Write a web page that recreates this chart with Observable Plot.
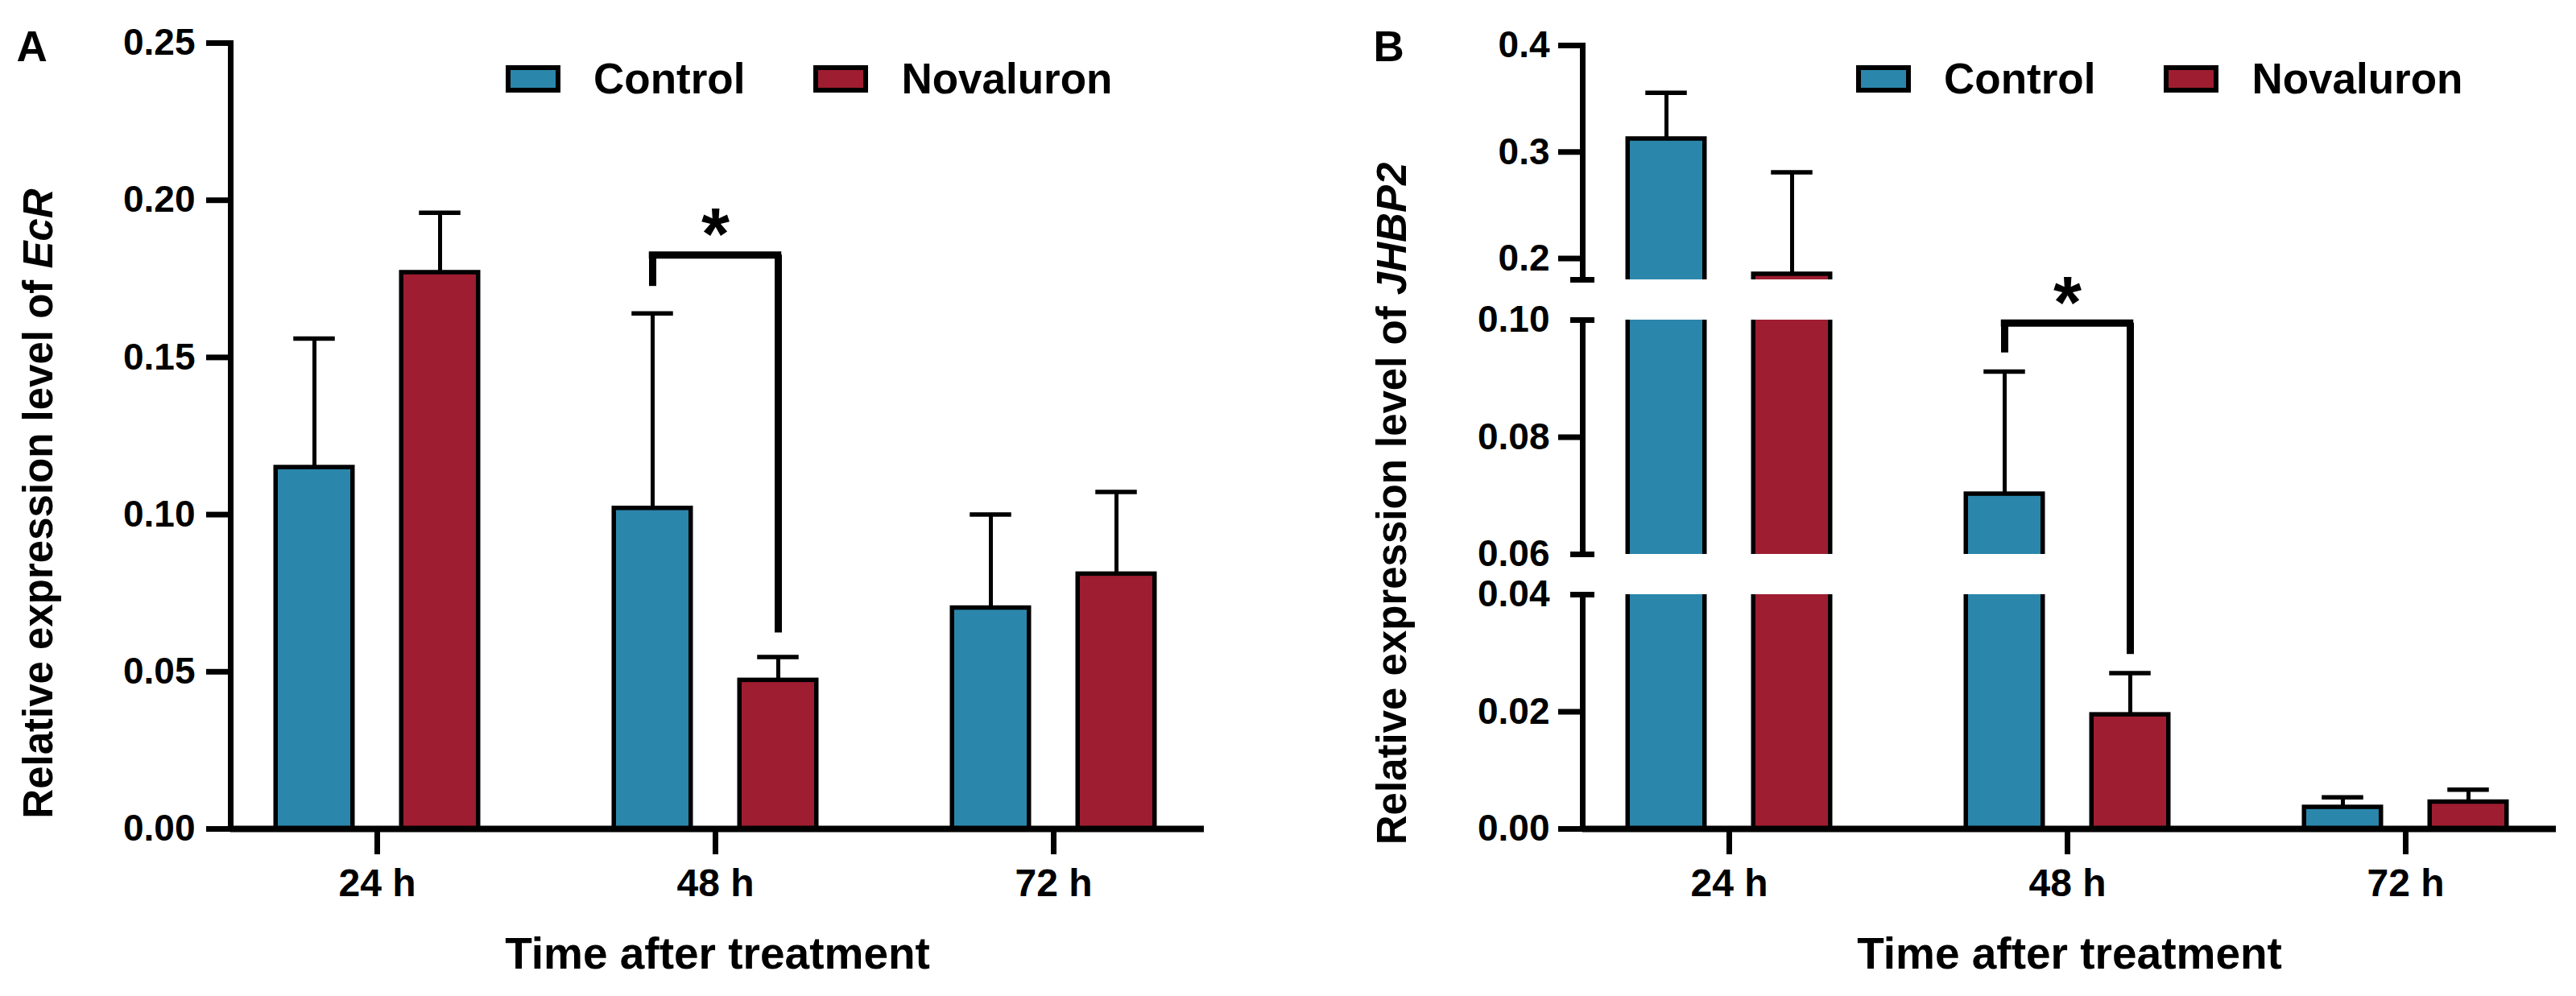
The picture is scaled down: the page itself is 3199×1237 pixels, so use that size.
<!DOCTYPE html>
<html>
<head>
<meta charset="utf-8">
<script src="https://cdn.jsdelivr.net/npm/d3@7"></script>
<script src="https://cdn.jsdelivr.net/npm/@observablehq/plot@0.6"></script>
<style>
  html, body { margin: 0; padding: 0; background: #fff; }
  #row { display: flex; width: 3199px; height: 1237px; }
  .panel { position: relative; height: 1237px; }
  .panel svg { display: block; }
  .panel .legend { position: absolute; top: 72px; }
  .panel .legend .lg-swatches { font-family: 'Liberation Sans', Arial, Helvetica, sans-serif; font-size: 53px; font-weight: bold; color: #000; margin: 0; display: flex; flex-wrap: nowrap; min-height: 0; }
  .panel .legend .lg-swatch { display: inline-flex; align-items: center; height: 52px; line-height: 52px; margin-right: 88px; white-space: nowrap; }
  .panel .legend .lg-swatch > svg { margin-right: 44px; overflow: visible; }
  .panel .legend .lg-swatch > svg rect { stroke: #000; stroke-width: 6px; }
</style>
</head>
<body>
<div id="row"></div>
<script>
// ---------- data ----------
const times = ["24 h", "48 h", "72 h"];
const series = ["Control", "Novaluron"];
const seriesColors = ["#2b86ab", "#9f1d31"];

// Panel A: EcR
const ecrControl = [0.115, 0.102, 0.0703];
const ecrControlErr = [0.041, 0.062, 0.0297];
const ecrNovaluron = [0.177, 0.0473, 0.0811];
const ecrNovaluronErr = [0.019, 0.0074, 0.0261];
const ecrTicks = [0, 0.05, 0.10, 0.15, 0.20, 0.25];
const ecrTickLabels = ["0.00", "0.05", "0.10", "0.15", "0.20", "0.25"];
const ecrBracket = {time: "48 h", left: 0.1726, top: 0.1826, right: 0.0624, label: "*"};

// Panel B: JHBP2 (broken axis)
const jhbpControl = [0.3123, 0.0703, 0.0037];
const jhbpControlErr = [0.0433, 0.0209, 0.0017];
const jhbpNovaluron = [0.1853, 0.0195, 0.0046];
const jhbpNovaluronErr = [0.0957, 0.0071, 0.0021];
const jhbpTicks = [0, 0.02, 0.04, 0.06, 0.08, 0.10, 0.2, 0.3, 0.4];
const jhbpTickLabels = ["0.00", "0.02", "0.04", "0.06", "0.08", "0.10", "0.2", "0.3", "0.4"];
const jhbpSegments = [[0, 0.04], [0.06, 0.10], [0.18, 0.4]];
const jhbpBracket = {time: "48 h", left: 0.0944, top: 0.0995, right: 0.0298, label: "*"};

const xTitle = "Time after treatment";
const yTitleStem = "Relative expression level of ";

// ---------- layout constants ----------
const FONT = "'Liberation Sans', Arial, Helvetica, sans-serif";
const STEP = 420.5;      // distance between time groups
const FIRST = 181;       // axis -> first group centre
const OFFSET = 78;       // group centre -> bar centre
const BAR_HALF = 48;
const CAP_HALF = 26;
const BOTTOM = 1029;     // pixel of y = 0
const HEIGHT = 1237;

function buildRows(ctrl, ctrlErr, nov, novErr) {
  const vals = [[ctrl, ctrlErr], [nov, novErr]];
  return series.flatMap((s, j) => times.map((t, i) => ({time: t, series: s, mean: vals[j][0][i], err: vals[j][1][i]})));
}

function makePanel(p) {
  const bw = STEP;
  const x0 = p.ml + FIRST - STEP / 2;
  const fmt = d => p.tickLabels[p.ticks.indexOf(d)];
  const boundaries = p.segments.length > 1 ? p.segments.flatMap((s, i) => i === 0 ? [s[1]] : i === p.segments.length - 1 ? [s[0]] : s) : [];
  const gaps = [];
  for (let i = 1; i < p.segments.length; i++) gaps.push([p.segments[i - 1][1], p.segments[i][0]]);
  const leftTicks = p.ticks.filter(t => !boundaries.includes(t));
  const capLabelTicks = p.ticks.filter(t => boundaries.includes(t));
  const axisStyle = {fontSize: 46, fontWeight: "bold", strokeWidth: 7, label: null};
  const marks = [];

  // bars
  series.forEach((s, j) => {
    const dx = j === 0 ? -OFFSET : OFFSET;
    marks.push(Plot.barY(p.rows.filter(d => d.series === s), {
      x: "time", y1: 0, y2: "mean", fill: "series", stroke: "#000", strokeWidth: 5.5,
      insetLeft: bw / 2 - BAR_HALF, insetRight: bw / 2 - BAR_HALF, dx
    }));
  });

  // y axis line
  marks.push(Plot.frame({anchor: "left", strokeWidth: 7}));

  // axis breaks
  if (gaps.length) marks.push(Plot.rect(gaps, {y1: d => d[0], y2: d => d[1], fill: "white", insetLeft: -25, insetRight: -5}));

  // x axis line
  marks.push(Plot.ruleY([0], {strokeWidth: 8}));

  // y axis ticks & labels
  marks.push(Plot.axisY({ticks: leftTicks, tickSize: 30, tickPadding: p.tickPadding, tickFormat: fmt, ...axisStyle}));
  if (capLabelTicks.length) {
    marks.push(Plot.axisY({ticks: capLabelTicks, tickSize: 0, tickPadding: 30 + p.tickPadding, tickFormat: fmt, ...axisStyle}));
  }
  if (boundaries.length) {
    marks.push(Plot.axisY({ticks: boundaries, tickSize: 30, dx: 15, text: null, ...axisStyle}));
  }

  // x axis
  marks.push(Plot.axisX({tickSize: 32, tickPadding: 17, fontSize: 48, fontWeight: "bold", strokeWidth: 7, label: null}));

  // error bars
  series.forEach((s, j) => {
    const dx = j === 0 ? -OFFSET : OFFSET;
    const data = p.rows.filter(d => d.series === s);
    marks.push(Plot.ruleX(data, {x: "time", y1: "mean", y2: d => d.mean + d.err, strokeWidth: 5, dx}));
    marks.push(Plot.tickY(data, {x: "time", y: d => d.mean + d.err, strokeWidth: 5.5, insetLeft: bw / 2 - CAP_HALF, insetRight: bw / 2 - CAP_HALF, dx}));
  });

  // significance bracket
  const b = [p.bracket];
  marks.push(Plot.ruleX(b, {x: "time", y1: "left", y2: "top", strokeWidth: 9, dx: -OFFSET}));
  marks.push(Plot.ruleX(b, {x: "time", y1: "right", y2: "top", strokeWidth: 9, dx: OFFSET}));
  marks.push(Plot.tickY(b, {x: "time", y: "top", strokeWidth: 9, insetLeft: bw / 2 - OFFSET - 4.5, insetRight: bw / 2 - OFFSET - 4.5}));
  marks.push(Plot.text(b, {x: "time", y: "top", text: "label", dy: -23, fontSize: 90, fontWeight: "bold"}));

  // titles
  marks.push(Plot.text([xTitle], {frameAnchor: "bottom", dy: 134, lineAnchor: "top", textAnchor: "middle", fontSize: 55, fontWeight: "bold"}));
  marks.push(Plot.text([yTitleStem + p.gene], {frameAnchor: "left", rotate: -90, textAnchor: "middle", lineAnchor: "middle", dx: p.yTitleX - p.ml, dy: 625 - (p.mt + BOTTOM) / 2, fontSize: 51, fontWeight: "bold"}));
  marks.push(Plot.text([p.letter], {frameAnchor: "top-left", dx: p.letterX - p.ml, dy: 38 - p.mt, textAnchor: "start", lineAnchor: "top", fontSize: 53, fontWeight: "bold"}));

  const svg = Plot.plot({
    width: p.width, height: HEIGHT,
    marginLeft: p.ml, marginRight: p.mr, marginTop: p.mt, marginBottom: HEIGHT - BOTTOM,
    style: {fontFamily: FONT, background: "#fff", color: "#000", overflow: "visible"},
    x: {type: "band", domain: times, range: [x0, x0 + 3 * STEP], padding: 0},
    y: p.y,
    color: {domain: series, range: seriesColors},
    marks
  });

  // italic gene name
  for (const t of svg.querySelectorAll("text")) {
    if (t.textContent === yTitleStem + p.gene) {
      const ns = "http://www.w3.org/2000/svg";
      t.textContent = "";
      const a = document.createElementNS(ns, "tspan");
      a.textContent = yTitleStem;
      const g = document.createElementNS(ns, "tspan");
      g.setAttribute("font-style", "italic");
      g.textContent = p.gene;
      t.append(a, g);
    }
  }

  const div = document.createElement("div");
  div.className = "panel";
  div.style.width = p.width + "px";
  div.appendChild(svg);
  const lg = document.createElement("div");
  lg.className = "legend";
  lg.style.left = (p.ml + p.legendOffset) + "px";
  lg.appendChild(Plot.legend({color: {type: "ordinal", domain: series, range: seriesColors}, swatchWidth: 62, swatchHeight: 28, className: "lg"}));
  div.appendChild(lg);
  return div;
}

const row = document.getElementById("row");

row.appendChild(makePanel({
  width: 1600, ml: 286, mr: 105, mt: 53,
  rows: buildRows(ecrControl, ecrControlErr, ecrNovaluron, ecrNovaluronErr),
  y: {type: "linear", domain: [0, 0.25], range: [BOTTOM, 53]},
  ticks: ecrTicks, tickLabels: ecrTickLabels, tickPadding: 14,
  segments: [[0, 0.25]],
  bracket: ecrBracket, gene: "EcR", letter: "A",
  yTitleX: 48, letterX: 20, legendOffset: 345
}));

const segPx = 291, gapPx = 50;
const jhbpDomain = jhbpSegments.flat();
const jhbpRange = [];
jhbpSegments.forEach((s, i) => {
  const start = BOTTOM - i * (segPx + gapPx);
  jhbpRange.push(start, start - segPx);
});

row.appendChild(makePanel({
  width: 1599, ml: 365, mr: 25, mt: jhbpRange[jhbpRange.length - 1],
  rows: buildRows(jhbpControl, jhbpControlErr, jhbpNovaluron, jhbpNovaluronErr),
  y: {type: "linear", domain: jhbpDomain, range: jhbpRange},
  ticks: jhbpTicks, tickLabels: jhbpTickLabels, tickPadding: 11,
  segments: jhbpSegments,
  bracket: jhbpBracket, gene: "JHBP2", letter: "B",
  yTitleX: 129, letterX: 105, legendOffset: 343
}));
</script>
</body>
</html>
